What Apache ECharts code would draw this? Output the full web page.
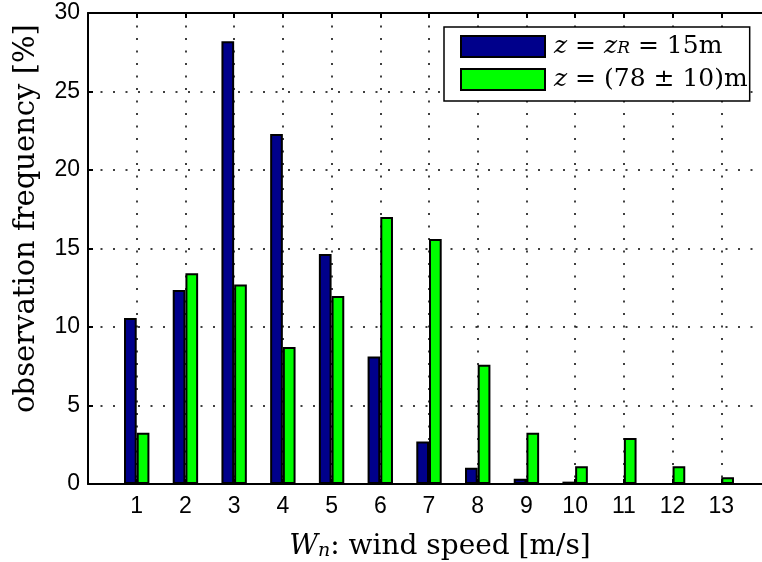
<!DOCTYPE html>
<html>
<head>
<meta charset="utf-8">
<script src="https://cdn.jsdelivr.net/npm/echarts@6/dist/echarts.min.js"></script>
<style>html,body{margin:0;padding:0;background:#fff}#c{width:762px;height:562px}</style>
</head>
<body>
<div id="c"></div>
<script>
const windSpeeds = [1,2,3,4,5,6,7,8,9,10,11,12,13];
const freq15m = [10.57,12.36,28.2,22.3,14.65,8.12,2.7,1.04,0.34,0.15,0,0,0];
const freq78m = [3.27,13.42,12.7,8.72,11.97,17.0,15.6,7.6,3.27,1.13,2.93,1.13,0.43];
const yTicks = [0,5,10,15,20,25,30];

const serif = 'DejaVu Serif';
const sans = 'Liberation Sans';
const dotted = {color:'#000', width:1.5, type:[2,10.5]};

const chart = echarts.init(document.getElementById('c'), null, {renderer:'canvas'});
chart.setOption({
  animation:false,
  backgroundColor:'#fff',
  grid:{left:88, top:13, right:-8, bottom:78, containLabel:false, outerBoundsMode:'none'},
  legend:{
    orient:'vertical', left:444, top:27, icon:'rect',
    backgroundColor:'#fff', borderColor:'#000', borderWidth:1.5,
    padding:[7,2,9,16], itemWidth:84, itemHeight:21, itemGap:8,
    textStyle:{fontFamily:serif, fontSize:25, color:'#000', lineHeight:22, padding:[0,0,0,4],
      rich:{
        i:{fontFamily:serif, fontStyle:'italic', fontSize:25},
        s:{fontFamily:serif, fontStyle:'italic', fontSize:17, verticalAlign:'bottom', padding:[10,0,0,0]}
      }},
    formatter: function(name){
      if(name==='a') return '{i|z} = {i|z}{s|R} = 15m';
      return '{i|z} = (78 ± 10)m';
    },
    data:['a','b']
  },
  xAxis:[{
    type:'value', min:0, max:14, interval:1, position:'bottom',
    axisLine:{lineStyle:{color:'#000', width:2}},
    axisTick:{inside:true, length:5, lineStyle:{color:'#000', width:2}},
    axisLabel:{fontFamily:sans, fontSize:23, color:'#000', margin:11,
      formatter:v=> (v>=1 && v<=13) ? String(windSpeeds[v-1]) : ''},
    splitLine:{show:true, lineStyle:dotted},
    name:'{it|W}{sb|n}: wind speed [m/s]', nameLocation:'middle', nameGap:48,
    nameTextStyle:{fontFamily:serif, fontSize:28, color:'#000', padding:[0,0,0,22],
      rich:{it:{fontFamily:serif, fontStyle:'italic', fontSize:28}, sb:{fontFamily:serif, fontStyle:'italic', fontSize:19, verticalAlign:'bottom', padding:[10,0,0,0]}}}
  },{
    type:'value', min:0, max:14, interval:1, position:'top',
    axisLine:{lineStyle:{color:'#000', width:2}},
    axisTick:{inside:true, length:5, lineStyle:{color:'#000', width:2}},
    axisLabel:{show:false}, splitLine:{show:false}
  }],
  yAxis:{
    type:'value', min:yTicks[0], max:yTicks[yTicks.length-1], interval:5,
    axisLine:{show:true, lineStyle:{color:'#000', width:2}},
    axisTick:{show:true, inside:true, length:5, lineStyle:{color:'#000', width:2}},
    axisLabel:{fontFamily:sans, fontSize:23, color:'#000', margin:8},
    splitLine:{show:true, lineStyle:dotted},
    name:'observation frequency [%]', nameLocation:'middle', nameGap:47, nameRotate:90,
    nameTextStyle:{fontFamily:serif, fontSize:29, color:'#000', padding:[0,0,0,60]}
  },
  series:[
    {name:'a', type:'bar', barWidth:12.7, barGap:'0%', xAxisIndex:0,
     itemStyle:{color:'#00008B', borderColor:'#000', borderWidth:2},
     data: windSpeeds.map((x,i)=>[x, freq15m[i]])},
    {name:'b', type:'bar', barWidth:12.7, barGap:'0%', xAxisIndex:0,
     itemStyle:{color:'#00FF00', borderColor:'#000', borderWidth:2},
     data: windSpeeds.map((x,i)=>[x, freq78m[i]])}
  ]
});
</script>
</body>
</html>
